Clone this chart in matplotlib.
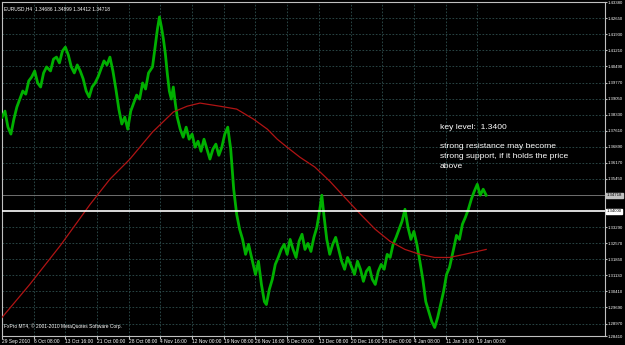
import numpy as np
import matplotlib
matplotlib.use('Agg')
import matplotlib.pyplot as plt

# EURUSD H4 close prices (bar number, price)
bars = [0, 3, 6, 9, 12, 15, 18, 21, 24, 27, 30, 33, 36, 39, 42, 45, 49, 52, 55, 58,
        61, 64, 67, 70, 73, 76, 79, 82, 85, 88, 91, 94, 97, 100, 103, 106, 109, 112, 115, 118,
        121, 124, 127, 130, 133, 136, 139, 142, 145, 148, 152, 155, 157, 159, 161, 163, 165, 167,
        169, 171, 173, 175, 177, 180, 183, 186, 189, 192, 195, 198, 201, 204, 207, 210, 213, 216,
        219, 222, 225, 228, 231, 234, 237, 240, 243, 246, 249, 253, 256, 259, 262, 265, 267, 270,
        273, 276, 279, 282, 285, 288, 291, 294, 297, 300, 303, 306, 309, 312, 315, 318, 321, 323,
        325, 328, 331, 334, 337, 340, 343, 346, 349, 352, 356, 359, 362, 365, 368, 371, 374, 377,
        380, 383, 386, 389, 392, 395, 398, 401, 404, 407, 410, 413, 416, 419, 422, 425, 428, 431,
        434, 437, 440, 443, 446, 449, 452, 456, 459, 462, 465, 468, 471, 474, 477, 480, 483, 486,
        489]
close = [1.3822, 1.3849, 1.3777, 1.3746, 1.3813, 1.3867, 1.3903, 1.3939, 1.3925, 1.3984,
         1.4002, 1.4029, 1.3975, 1.3957, 1.4020, 1.4047, 1.4029, 1.4082, 1.4091, 1.4065,
         1.4118, 1.4136, 1.4100, 1.4047, 1.4020, 1.4056, 1.4029, 1.3993, 1.3939, 1.3912,
         1.3957, 1.3975, 1.4002, 1.4038, 1.4074, 1.4056, 1.4091, 1.4029, 1.3948, 1.3858,
         1.3791, 1.3822, 1.3768, 1.3849, 1.3885, 1.3921, 1.3903, 1.3975, 1.3948, 1.4020,
         1.4047, 1.4150, 1.4217, 1.4271, 1.4226, 1.4172, 1.4105, 1.4015, 1.3939, 1.3903,
         1.3957, 1.3885, 1.3822, 1.3768, 1.3732, 1.3777, 1.3723, 1.3746, 1.3687, 1.3714,
         1.3669, 1.3723, 1.3678, 1.3634, 1.3678, 1.3701, 1.3651, 1.3687, 1.3746, 1.3777,
         1.3678, 1.3499, 1.3387, 1.3319, 1.3274, 1.3207, 1.3252, 1.3176, 1.3117, 1.3176,
         1.3072, 1.2995, 1.2982, 1.3050, 1.3095, 1.3162, 1.3193, 1.3229, 1.3252, 1.3207,
         1.3274, 1.3229, 1.3193, 1.3265, 1.3297, 1.3229, 1.3256, 1.3220, 1.3283, 1.3328,
         1.3409, 1.3472, 1.3387, 1.3274, 1.3207, 1.3252, 1.3283, 1.3229, 1.3176, 1.3140,
         1.3193, 1.3162, 1.3117, 1.3176, 1.3140, 1.3086, 1.3131, 1.3149, 1.3095, 1.3072,
         1.3131, 1.3162, 1.3140, 1.3207, 1.3193, 1.3252, 1.3283, 1.3319, 1.3355, 1.3409,
         1.3328, 1.3274, 1.3310, 1.3252, 1.3176, 1.3095, 1.2995, 1.2951, 1.2906, 1.2879,
         1.2924, 1.2982, 1.3041, 1.3117, 1.3149, 1.3229, 1.3292, 1.3274, 1.3342, 1.3373,
         1.3409, 1.3454, 1.3490, 1.3521, 1.3472, 1.3499, 1.3472]

# moving average
ma_bars = [0, 28, 59, 89, 109, 129, 152, 173, 187, 200, 207, 220, 237, 254, 268, 278, 288, 301,
           316, 331, 346, 362, 377, 392, 407, 422, 437, 452, 467, 489]
ma = [1.2924, 1.3072, 1.3247, 1.3431, 1.3544, 1.3633, 1.3755, 1.3845, 1.3871, 1.3885, 1.3880,
      1.3871, 1.3858, 1.3813, 1.3768, 1.3723, 1.3687, 1.3642, 1.3598, 1.3535, 1.3463, 1.3387,
      1.3319, 1.3265, 1.3229, 1.3207, 1.3193, 1.3193, 1.3207, 1.3229]

date_labels = ['29 Sep 2010', '6 Oct 08:00', '13 Oct 16:00', '21 Oct 00:00', '28 Oct 08:00',
               '4 Nov 16:00', '12 Nov 00:00', '19 Nov 08:00', '26 Nov 16:00', '6 Dec 00:00',
               '13 Dec 08:00', '20 Dec 16:00', '28 Dec 00:00', '4 Jan 08:00', '11 Jan 16:00',
               '19 Jan 00:00']
price_ticks = [1.43380, 1.42650, 1.41930, 1.41210, 1.40490, 1.39770, 1.39050, 1.38330, 1.37610,
               1.36890, 1.36170, 1.35450, 1.33290, 1.32570, 1.31850, 1.31130, 1.30410,
               1.29690, 1.28970, 1.28410]
key_level = 1.34000
bid = 1.34718
header = 'EURUSD,H4  1.34686 1.34899 1.34412 1.34718'
note_lines = ['key level:  1.3400', '', 'strong resistance may become',
              'strong support, if it holds the price', 'above']

plt.rcParams['font.family'] = ['Liberation Sans', 'DejaVu Sans']

fig = plt.figure(figsize=(6.25, 3.45), dpi=100, facecolor='black')
ax = fig.add_axes([2/625, 9/345, 603/625, 334/345], facecolor='black')

grid_c = '#2f4f4f'
date_pos = [32 * i for i in range(len(date_labels))]
for p in date_pos:
    ax.axvline(p, color=grid_c, lw=0.6, ls=(0, (2, 2)), zorder=0)
for p in price_ticks:
    ax.axhline(p, color=grid_c, lw=0.6, ls=(0, (2, 2)), zorder=0)

ax.plot(bars, close, color='#00b000', lw=2.0, zorder=3)
ax.plot(ma_bars, ma, color='#b01414', lw=0.9, zorder=4)
ax.axhline(bid, color='#808080', lw=0.6, zorder=2)
ax.axhline(key_level, color='white', lw=1.2, zorder=5)

ax.set_xlim(0, 609)
ax.set_ylim(1.2841, 1.4338)

for s in ax.spines.values():
    s.set_color('#c0c0c0')
    s.set_linewidth(0.8)

small = 3.5
ax.set_xticks(date_pos)
ax.set_xticklabels(date_labels, ha='left', fontsize=small, color='white')
ax.tick_params(axis='x', length=2, pad=0.3, color='#c0c0c0')
ax.yaxis.tick_right()
ax.set_yticks(price_ticks)
ax.set_yticklabels(['%.5f' % p for p in price_ticks], fontsize=3.1, color='white')
ax.tick_params(axis='y', length=1.2, pad=0.4, color='#c0c0c0')

# highlighted price labels on the right
ax.text(1.003, key_level, '%.5f' % key_level, transform=ax.get_yaxis_transform(),
        fontsize=3.1, color='black', va='center', ha='left',
        bbox=dict(boxstyle='square,pad=0.12', fc='white', ec='white'))
ax.text(1.003, bid, '%.5f' % bid, transform=ax.get_yaxis_transform(),
        fontsize=3.1, color='black', va='center', ha='left',
        bbox=dict(boxstyle='square,pad=0.12', fc='#c0c0c0', ec='#c0c0c0'))

ax.text(0.003, 0.988, header, transform=ax.transAxes, fontsize=small, color='white', va='top')
ax.text(0.003, 0.02, 'FxPro MT4, © 2001-2010 MetaQuotes Software Corp.', transform=ax.transAxes,
        fontsize=small, color='white', va='bottom')

note_y = [1.3777, 1.3735, 1.3692, 1.3647, 1.3602]
for y, t in zip(note_y, note_lines):
    ax.text(442, y, t, fontsize=6.1, color='white', va='center')

plt.savefig('out.png', dpi=100, facecolor='black')
